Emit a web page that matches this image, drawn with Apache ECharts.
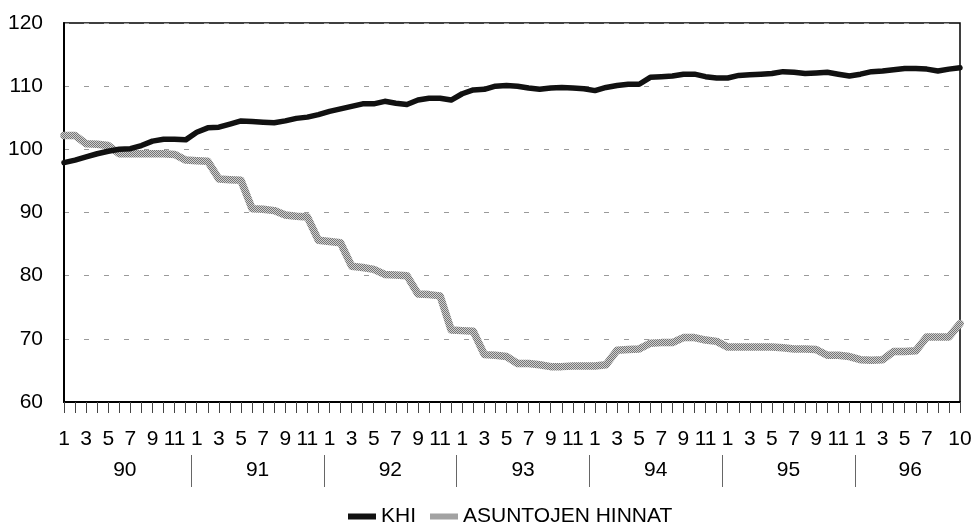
<!DOCTYPE html>
<html>
<head>
<meta charset="utf-8">
<script src="https://cdn.jsdelivr.net/npm/echarts@6/dist/echarts.min.js"></script>
<style>
html,body{margin:0;padding:0;background:#fff;}
#chart{width:975px;height:525px;}
</style>
</head>
<body>
<div id="chart"></div>
<script>
// Monthly categories Jan 1990 .. Oct 1996
const categories = [];
for (let y = 1990; y <= 1996; y++) {
  const last = y === 1996 ? 10 : 12;
  for (let m = 1; m <= last; m++) categories.push(y + '-' + (m < 10 ? '0' + m : m));
}

const monthLabels = [
  '1','','3','','5','','7','','9','','11','',
  '1','','3','','5','','7','','9','','11','',
  '1','','3','','5','','7','','9','','11','',
  '1','','3','','5','','7','','9','','11','',
  '1','','3','','5','','7','','9','','11','',
  '1','','3','','5','','7','','9','','11','',
  '1','','3','','5','','7','','','10'
];

const yearLabels = ['90','91','92','93','94','95','96'];
const yearStart = [0, 12, 24, 36, 48, 60, 72];

const yTicks = [60, 70, 80, 90, 100, 110, 120];

const khi = [
  97.9, 98.3, 98.8, 99.3, 99.7, 100.0, 100.1, 100.6, 101.3, 101.6, 101.6, 101.5,
  102.7, 103.4, 103.5, 104.0, 104.5, 104.4, 104.3, 104.2, 104.5, 104.9, 105.1, 105.5,
  106.0, 106.4, 106.8, 107.2, 107.2, 107.6, 107.3, 107.1, 107.8, 108.1, 108.1, 107.8,
  108.8, 109.4, 109.5, 110.0, 110.1, 110.0, 109.7, 109.5, 109.7, 109.8, 109.7, 109.6,
  109.3, 109.8, 110.1, 110.3, 110.3, 111.4, 111.5, 111.6, 111.9, 111.9, 111.5, 111.3,
  111.3, 111.7, 111.8, 111.9, 112.0, 112.3, 112.2, 112.0, 112.1, 112.2, 111.9, 111.6,
  111.9, 112.3, 112.4, 112.6, 112.8, 112.8, 112.7, 112.4, 112.7, 112.9
];

const asuntojenHinnat = [
  102.2, 102.2, 100.9, 100.8, 100.6, 99.3, 99.3, 99.3, 99.3, 99.3, 99.2, 98.3,
  98.2, 98.1, 95.3, 95.2, 95.1, 90.6, 90.5, 90.3, 89.6, 89.4, 89.3, 85.6,
  85.4, 85.2, 81.5, 81.3, 81.0, 80.2, 80.1, 80.0, 77.1, 77.0, 76.8, 71.4,
  71.3, 71.2, 67.5, 67.4, 67.2, 66.1, 66.1, 65.9, 65.6, 65.6, 65.7, 65.7,
  65.7, 65.9, 68.2, 68.3, 68.4, 69.3, 69.4, 69.4, 70.2, 70.2, 69.8, 69.6,
  68.7, 68.7, 68.7, 68.7, 68.7, 68.6, 68.4, 68.4, 68.3, 67.4, 67.4, 67.2,
  66.7, 66.6, 66.7, 68.0, 68.0, 68.1, 70.3, 70.3, 70.3, 72.4
];

const seriesNames = ['KHI', 'ASUNTOJEN HINNAT'];

// dithered grey pattern for the housing price line
const pc = document.createElement('canvas');
pc.width = 2; pc.height = 2;
const pctx = pc.getContext('2d');
pctx.fillStyle = '#cfcfcf'; pctx.fillRect(0, 0, 2, 2);
pctx.fillStyle = '#757575'; pctx.fillRect(0, 0, 1, 1); pctx.fillRect(1, 1, 1, 1);
const greyPattern = { image: pc, repeat: 'repeat' };

const FONT = "'Liberation Sans', Arial, Helvetica, sans-serif";
const FS = 21;
const n = categories.length;
const left = 64, right = 15;
const plotW = 975 - left - right;
const band = plotW / (n - 1);

// year axis categories: one band per month plus one blank at the end
const yearCats = categories.concat(['']);
const yearLabelIndex = yearStart.map((s, k) => {
  const e = k + 1 < yearStart.length ? yearStart[k + 1] - 1 : n - 1;
  return Math.floor((s + e) / 2);
});

const chart = echarts.init(document.getElementById('chart'), null, { renderer: 'canvas' });
chart.setOption({
  animation: false,
  backgroundColor: '#fff',
  textStyle: { fontFamily: FONT },
  grid: [
    { left: left, right: right, top: 23, bottom: 123, containLabel: false, outerBoundsMode: 'none',
      show: true, borderColor: '#000', borderWidth: 1.5, backgroundColor: 'transparent' },
    { left: left - band / 2, width: band * (n + 1), top: 23, bottom: 70, containLabel: false, outerBoundsMode: 'none' }
  ],
  xAxis: [
    {
      type: 'category', gridIndex: 0, data: categories, boundaryGap: false,
      axisLine: { show: true, lineStyle: { color: '#000', width: 2 } },
      axisTick: { show: true, interval: 0, length: 11, lineStyle: { color: '#444', width: 1 } },
      axisLabel: {
        interval: 0, margin: 27, fontSize: FS, color: '#000', fontFamily: FONT,
        hideOverlap: false,
        formatter: (v, i) => monthLabels[i]
      },
      splitLine: { show: false }
    },
    {
      type: 'category', gridIndex: 1, data: yearCats, boundaryGap: true,
      position: 'bottom',
      axisLine: { show: false },
      axisTick: { show: true, length: 32, interval: (i) => i > 0 && yearStart.indexOf(i) >= 0,
        lineStyle: { color: '#666', width: 1 } },
      axisLabel: {
        interval: 0, margin: 5, fontSize: FS, color: '#000', fontFamily: FONT,
        padding: [0, 0, 0, band],
        hideOverlap: false,
        formatter: (v, i) => {
          const k = yearLabelIndex.indexOf(i);
          return k >= 0 ? yearLabels[k] : '';
        }
      },
      splitLine: { show: false }
    }
  ],
  yAxis: [
    {
      type: 'value', gridIndex: 0, min: yTicks[0], max: yTicks[yTicks.length - 1], interval: 10,
      axisLine: { show: true, lineStyle: { color: '#000', width: 2 } },
      axisTick: { show: false },
      axisLabel: { margin: 21, fontSize: FS, color: '#000', fontFamily: FONT },
      splitLine: { show: true, lineStyle: { color: '#9a9a9a', width: 1, type: [5, 15] } }
    },
    { type: 'value', gridIndex: 1, show: false, min: 0, max: 1 }
  ],
  legend: {
    data: [
      { name: seriesNames[0], icon: 'rect', itemStyle: { color: '#111' } },
      { name: seriesNames[1], icon: 'rect', itemStyle: { color: greyPattern } }
    ],
    left: 343, top: 501,
    itemWidth: 28, itemHeight: 6, itemGap: 14,
    textStyle: { fontSize: FS, color: '#000', fontFamily: FONT }
  },
  series: [
    {
      name: seriesNames[0], type: 'line', data: khi, xAxisIndex: 0, yAxisIndex: 0,
      symbol: 'none', z: 4,
      lineStyle: { color: '#111', width: 5.5, join: 'round', cap: 'round' },
      itemStyle: { color: '#111' }
    },
    {
      name: seriesNames[1], type: 'line', data: asuntojenHinnat, xAxisIndex: 0, yAxisIndex: 0,
      symbol: 'none', z: 3,
      lineStyle: { color: greyPattern, width: 7.5, join: 'round', cap: 'round' },
      itemStyle: { color: '#a8a8a8' }
    }
  ]
});
</script>
</body>
</html>
